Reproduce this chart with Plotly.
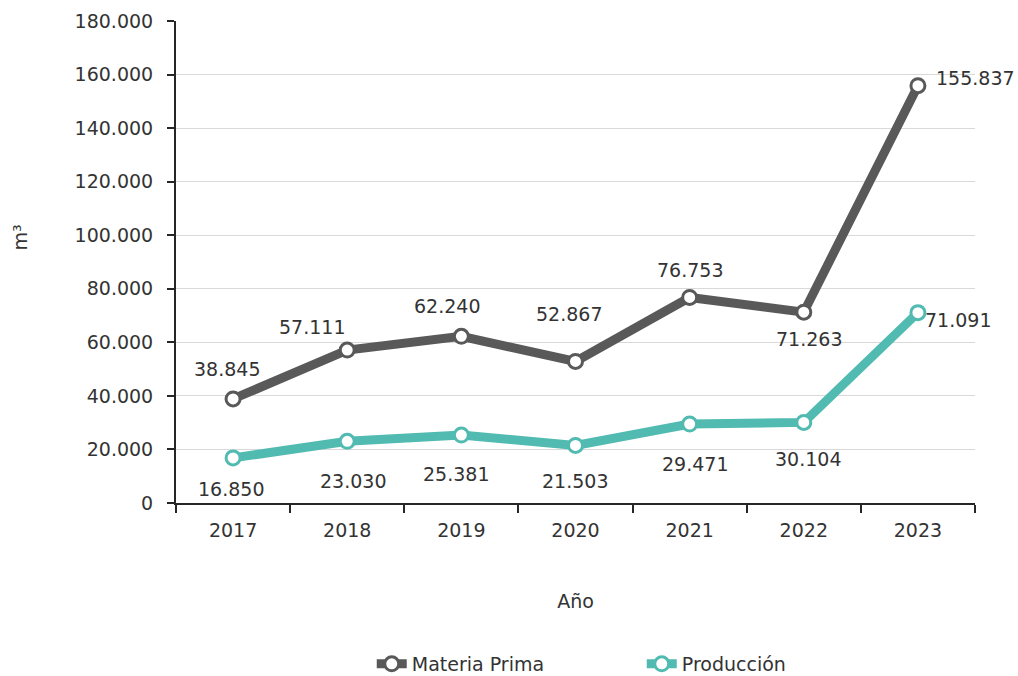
import plotly.graph_objects as go

years = [2017, 2018, 2019, 2020, 2021, 2022, 2023]
materia_prima = [38845, 57111, 62240, 52867, 76753, 71263, 155837]
produccion = [16850, 23030, 25381, 21503, 29471, 30104, 71091]
labels_mp = ["38.845", "57.111", "62.240", "52.867", "76.753", "71.263", "155.837"]
labels_pr = ["16.850", "23.030", "25.381", "21.503", "29.471", "30.104", "71.091"]

# label pixel offsets (style)
off_mp = [(-6, 30), (-35, 23), (-14, 30), (-7, 47), (0, 27), (5, -27), (58, 8)]
off_pr = [(-2, -31), (6, -40), (-5, -39), (-1, -36), (5, -40), (4, -37), (40, -7)]

FONT = "DejaVu Sans"
FS = 19
C_MP = "#595959"
C_PR = "#52BBB1"
TXT = "#333333"

fig = go.Figure()
fig.add_trace(go.Scatter(
    x=years, y=materia_prima, name="Materia Prima", mode="lines+markers",
    line=dict(color=C_MP, width=9),
    marker=dict(size=14, color="white", line=dict(color=C_MP, width=3)),
))
fig.add_trace(go.Scatter(
    x=years, y=produccion, name="Producción", mode="lines+markers",
    line=dict(color=C_PR, width=9),
    marker=dict(size=14, color="white", line=dict(color=C_PR, width=3)),
))

anns = []
for yr, v, t, (dx, dy) in zip(years, materia_prima, labels_mp, off_mp):
    anns.append(dict(x=yr, y=v, xref="x", yref="y", text=t, showarrow=False,
                     xshift=dx, yshift=dy, font=dict(family=FONT, size=FS, color=TXT)))
for yr, v, t, (dx, dy) in zip(years, produccion, labels_pr, off_pr):
    anns.append(dict(x=yr, y=v, xref="x", yref="y", text=t, showarrow=False,
                     xshift=dx, yshift=dy, font=dict(family=FONT, size=FS, color=TXT)))
# y-axis title
anns.append(dict(x=-0.212, y=0.55, xref="paper", yref="paper", text="m³", textangle=-90,
                 showarrow=False, font=dict(family=FONT, size=FS, color=TXT)))

fig.update_layout(
    width=1018, height=676,
    margin=dict(l=176, r=43, t=21, b=173, autoexpand=False),
    paper_bgcolor="white", plot_bgcolor="white",
    separators=",.",
    font=dict(family=FONT, size=FS, color=TXT),
    annotations=anns,
    showlegend=True,
    legend=dict(orientation="h", x=0.245, xanchor="left", y=-0.334, yanchor="middle",
                font=dict(family=FONT, size=FS, color=TXT), entrywidth=225),
    xaxis=dict(
        type="linear", range=[2016.5, 2023.5], tickmode="array", tickvals=years,
        ticktext=[str(y) for y in years], ticks="", automargin=False,
        showline=True, linecolor="#262626", linewidth=2, showgrid=False, zeroline=False,
        minor=dict(ticks="outside", tick0=2016.5, dtick=1, ticklen=8,
                   tickcolor="#262626", tickwidth=2, showgrid=False),
        tickfont=dict(size=FS, color=TXT), ticklabelstandoff=9,
        title=dict(text="Año", standoff=55, font=dict(size=FS, color=TXT)),
    ),
    yaxis=dict(
        range=[0, 180000], dtick=20000, tickformat=",d", automargin=False,
        showline=True, linecolor="#262626", linewidth=2,
        ticks="outside", ticklen=7, tickcolor="#262626", tickwidth=2,
        showgrid=True, gridcolor="#d9d9d9", gridwidth=1, zeroline=False,
        tickfont=dict(size=FS, color=TXT), ticklabelstandoff=10,
    ),
)

fig.write_html("out.html", config={"displayModeBar": False},
               post_script="document.body.style.margin='0';")
